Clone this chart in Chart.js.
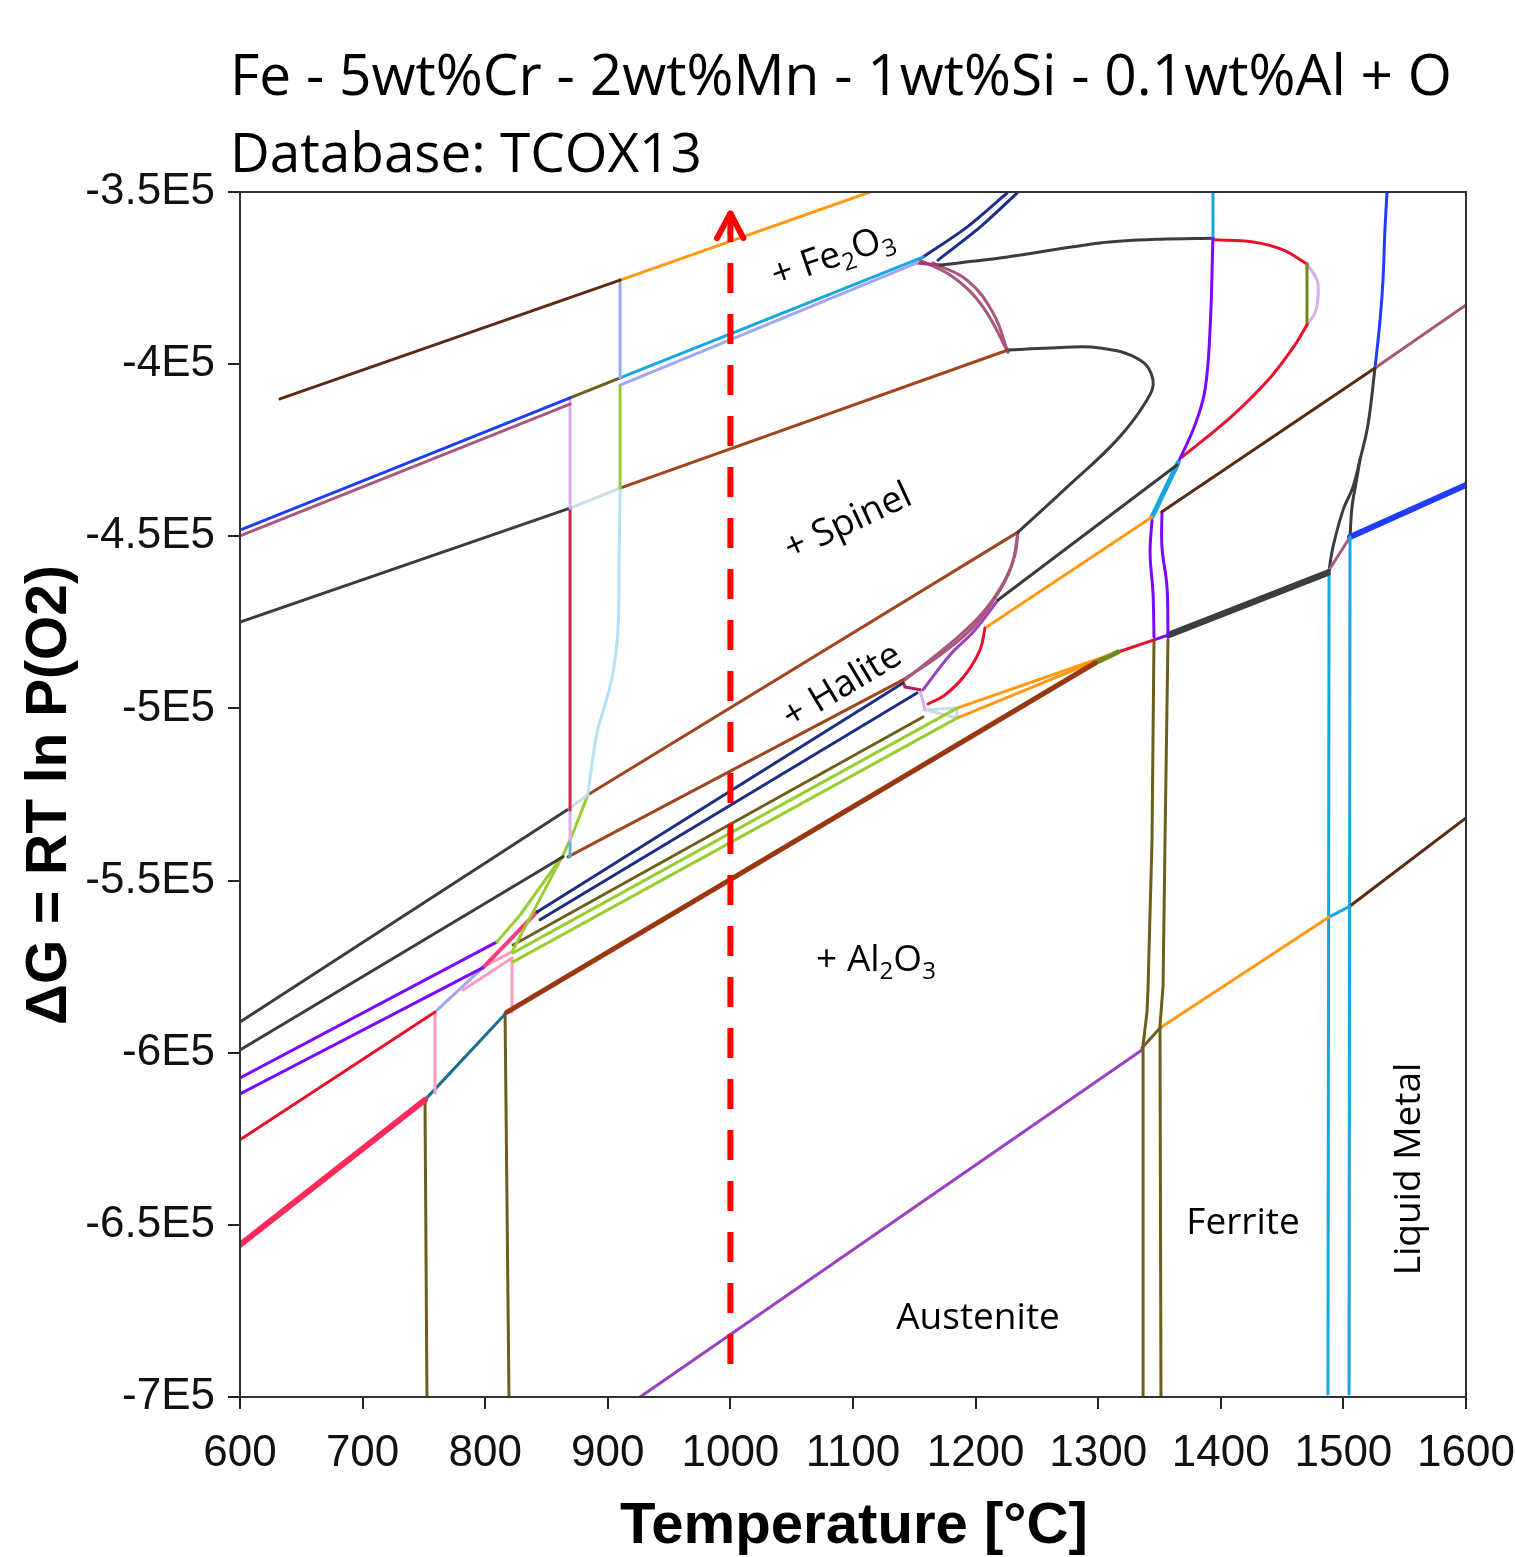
<!DOCTYPE html>
<html>
<head>
<meta charset="utf-8">
<script src="https://cdn.jsdelivr.net/npm/chart.js@4.4.1/dist/chart.umd.min.js"></script>
<style>
  html, body { margin: 0; padding: 0; background: #fff; }
</style>
</head>
<body>
<canvas id="myChart" width="1515" height="1557"></canvas>
<script>
// temperature in °C, driving force in units of 1E5 J/mol
const xTickValues = [600, 700, 800, 900, 1000, 1100, 1200, 1300, 1400, 1500, 1600];
const yTickValues = [-3.5, -4, -4.5, -5, -5.5, -6, -6.5, -7];
const yTickLabels = ['-3.5E5', '-4E5', '-4.5E5', '-5E5', '-5.5E5', '-6E5', '-6.5E5', '-7E5'];

// upper part
const brownTop = [[632.6, -4.101], [910, -3.756]];
const orangeTop = [[910, -3.756], [1113.9, -3.5]];
const periVert910 = [[910, -3.756], [910, -4.040]];
const blueUpper = [[600, -4.482], [869.2, -4.098]];
const mauveUpper = [[600, -4.499], [869.2, -4.116]];
const oliveShort = [[869.2, -4.098], [910, -4.040]];
const cyanUpper = [[910, -4.040], [1157.1, -3.689]];
const lavUpper = [[910, -4.061], [1152.2, -3.706]];
const lavVert870 = [[869.2, -4.098], [869.2, -4.418]];
const greenVert910 = [[910, -4.061], [910, -4.360]];
const greyA = [[600, -4.749], [869.2, -4.418]];
const paleA = [[869.2, -4.418], [910, -4.360]];
const brownMid = [[910, -4.360], [1226.4, -3.959]];
const greyLoop = [[1226.4, -3.959], [1260.7, -3.953], [1301.5, -3.953], [1334.1, -3.988], [1344.7, -4.046],
  [1339.8, -4.104], [1315.3, -4.220], [1274.6, -4.357], [1234.6, -4.488]];
const crimsonVert870 = [[869.2, -4.418], [869.2, -5.295]];
const lavVert870b = [[869.2, -5.295], [869.2, -5.382]];
const tealVert870 = [[869.2, -5.382], [869.2, -5.431]];
const lightBlueCurve = [[910, -4.360], [909.2, -4.569], [908.3, -4.772], [904.2, -4.897], [897.7, -4.990],
  [891.2, -5.071], [883.8, -5.246]];
const greyB = [[600, -5.911], [866.7, -5.295]];
const greyC = [[600, -5.992], [863.5, -5.431]];
const paleB = [[866.7, -5.295], [883.8, -5.251]];
const brownHalTop = [[883.8, -5.251], [1234.6, -4.488]];
const brownHalBot = [[867.5, -5.431], [1140.8, -4.917]];
const greenSteep = [[883.8, -5.251], [871.6, -5.362], [863.5, -5.426], [828.4, -5.600], [809.6, -5.678]];
const greenSteep2 = [[863.5, -5.426], [821.9, -5.707]];
const navy1 = [[842.3, -5.591], [1140.8, -4.926]];
const navy2 = [[844.7, -5.614], [1152.2, -4.955]];
const oliveLong = [[822.7, -5.687], [1157.1, -5.025]];
const green1 = [[822.7, -5.710], [1184.8, -4.999]];
const green2 = [[822.7, -5.736], [1184.8, -5.028]];
const brownThick = [[817.8, -5.882], [1297.4, -4.868]];
const oliveGreenShort = [[1297.4, -4.868], [1316.2, -4.836]];
const redShort = [[1316.2, -4.836], [1345.5, -4.801]];
const orange1 = [[1184.8, -4.999], [1316.2, -4.836]];
const orange2 = [[1184.8, -5.028], [1316.2, -4.836]];
const orangeMid = [[1209.3, -4.763], [1343.9, -4.444]];
const greyD = [[1218.3, -4.685], [1364.3, -4.293]];
const cyanThick = [[1343.9, -4.444], [1365.1, -4.287]];
const brownR = [[1352, -4.429], [1525.8, -4.011]];
const mauveR = [[1525.8, -4.011], [1600, -3.828]];
const violetUp = [[1365.1, -4.287], [1378.9, -4.177], [1387.1, -4.075], [1391.2, -3.901], [1393.6, -3.634]];
const cyanTop = [[1393.6, -3.634], [1393.6, -3.5]];
const redR = [[1368.4, -4.270], [1407.5, -4.156], [1440.1, -4.040], [1460.5, -3.944], [1470.3, -3.886]];
const oliveVertR = [[1470.3, -3.886], [1470.3, -3.709]];
const redTop = [[1470.3, -3.709], [1450.7, -3.668], [1426.3, -3.645], [1393.6, -3.639]];
const lavBulge = [[1470.3, -3.709], [1478.5, -3.756], [1479.3, -3.805], [1476.8, -3.851], [1470.3, -3.886]];
const greyTop = [[1171, -3.712], [1219.9, -3.692], [1301.5, -3.648], [1350.4, -3.637], [1393.6, -3.634]];
const magentaTop = [[1152.2, -3.706], [1171, -3.712]];
const navyA = [[1157.1, -3.689], [1193, -3.602], [1225.6, -3.503]];
const navyB = [[1169.3, -3.698], [1203.6, -3.602], [1233.8, -3.503]];
const mauveA = [[1154.6, -3.698], [1181.6, -3.747], [1206, -3.834], [1226.4, -3.965]];
const mauveB = [[1165.2, -3.706], [1193, -3.756], [1214.2, -3.851], [1226.4, -3.965]];

// right part
const violetL = [[1343.9, -4.453], [1342.3, -4.548], [1344.7, -4.665], [1345.5, -4.792]];
const violetR = [[1352, -4.429], [1352, -4.531], [1356.1, -4.647], [1356.9, -4.781]];
const violetConn = [[1345.5, -4.801], [1356.9, -4.787]];
const greyThick1 = [[1356.9, -4.783], [1488.3, -4.600]];
const greyThick2 = [[1356.9, -4.792], [1488.3, -4.609]];
const oliveL = [[1345.5, -4.801], [1343.9, -5.382], [1340.6, -5.818], [1339.8, -5.882], [1336.6, -5.977], [1336.6, -7.0]];
const oliveR = [[1356.9, -4.801], [1354.5, -5.382], [1352.9, -5.806], [1350.4, -5.922], [1351.2, -7.0]];
const oliveDiag = [[1335.7, -5.986], [1350.4, -5.928]];
const purpleLow = [[926.3, -7.0], [1335.7, -5.992]];
const orangeLow = [[1350.4, -5.928], [1488.3, -5.606]];
const cyanLowShort = [[1488.3, -5.606], [1505.4, -5.574]];
const brownLow = [[1505.4, -5.574], [1600, -5.318]];
const cyanV1 = [[1488.3, -4.598], [1487.4, -6.991]];
const cyanV2 = [[1505.4, -4.502], [1504.6, -6.991]];
const mauveShort = [[1488.3, -4.598], [1505.4, -4.502]];
const blueThick = [[1505.4, -4.502], [1600, -4.351]];
const greyCurveA = [[1488.3, -4.598], [1491.5, -4.531], [1499.7, -4.424], [1507.8, -4.357], [1513.5, -4.278],
  [1520, -4.177], [1525.8, -4.011]];
const greyCurveB = [[1505.4, -4.502], [1507, -4.415], [1510.3, -4.345], [1513.5, -4.278]];
const blueUp = [[1525.8, -4.011], [1529.9, -3.872], [1532.3, -3.756], [1533.9, -3.610], [1535.6, -3.5]];

// lower left part
const violet1 = [[600, -6.073], [809.6, -5.678]];
const violet2 = [[600, -6.120], [798.2, -5.753]];
const redLow = [[600, -6.253], [759.1, -5.882]];
const periLow = [[760.7, -5.876], [798.2, -5.753]];
const pinkV435 = [[759.1, -5.882], [759.1, -6.117]];
const pinkThick = [[600, -6.558], [750.9, -6.137]];
const tealLow = [[750.9, -6.137], [817.8, -5.882]];
const oliveV425 = [[750.9, -6.137], [752.5, -7.0]];
const oliveV507 = [[816.2, -5.885], [819.4, -7.0]];
const pinkV512 = [[821.9, -5.882], [821.9, -5.725]];
const pinkMagenta = [[798.2, -5.753], [842.3, -5.591]];
const pinkDiag1 = [[781.9, -5.818], [821.9, -5.725]];
const pinkDiag2 = [[798.2, -5.751], [821.9, -5.707]];

// halite corner
const mauveH1 = [[1234.6, -4.488], [1229.7, -4.583], [1219.9, -4.656], [1199.5, -4.758], [1171, -4.845], [1140.8, -4.917]];
const mauveH2 = [[1234.6, -4.488], [1232.1, -4.554], [1224, -4.627], [1207.7, -4.714], [1187.3, -4.787],
  [1162.8, -4.859], [1142.4, -4.917]];
const purpleH = [[1218.3, -4.685], [1199.5, -4.772], [1179.1, -4.845], [1157.1, -4.946]];
const redH = [[1207.7, -4.766], [1203.6, -4.830], [1191.4, -4.903], [1175, -4.961], [1161.2, -4.987]];
const crimsonH = [[1140.8, -4.923], [1142.4, -4.938], [1154.6, -4.946]];
const lavH = [[1154.6, -4.946], [1158.7, -5.004]];
const paleH = [[1158.7, -5.004], [1184.8, -4.999], [1184.8, -5.028], [1158.7, -5.004]];

// the red arrow at 1000 °C
const arrowShaft = [[1000, -3.558], [1000, -6.921]];
const arrowHead = [[989.1, -3.634], [1000, -3.562], [1010.6, -3.634]];

const C = {
  grey: '#3a3d40', brownD: '#5a2a14', brown: '#a0461e', brownT: '#993810', orange: '#ff9a10',
  blue: '#1f3cff', mauve: '#a8587e', cyan: '#18a6e0', lav: '#a0a6f0', lavL: '#d9aeea',
  crimson: '#c8284a', ygreen: '#9acd32', olive: '#6e5e1c', oliveG: '#6b8a1a', navy: '#1c2f82',
  red: '#e8102a', violet: '#7a08ff', purple: '#9b40bf', pink: '#ff9ac0', pinkT: '#ff2a5a',
  teal: '#1a6f8a', lightBlue: '#b5e0f5', pale: '#c8dcea', magenta: '#ff3a7a'
};

// [data, colour, width, tension]
const curves = [
  [arrowHead, '#ff0000', 6, 0],
  [brownTop, C.brownD, 3, 0], [orangeTop, C.orange, 3, 0], [periVert910, C.lav, 3, 0],
  [blueUpper, C.blue, 3, 0], [mauveUpper, C.mauve, 3, 0], [oliveShort, C.olive, 3, 0],
  [cyanUpper, C.cyan, 3, 0], [lavUpper, C.lav, 3, 0], [lavVert870, C.lavL, 3, 0],
  [greenVert910, C.ygreen, 3, 0], [greyA, C.grey, 3, 0], [paleA, C.pale, 3, 0],
  [brownMid, C.brown, 3, 0], [greyLoop, C.grey, 3, 0.4], [crimsonVert870, C.crimson, 3, 0],
  [lavVert870b, C.lavL, 3, 0], [tealVert870, '#5ab4d6', 3, 0], [lightBlueCurve, C.lightBlue, 3, 0.4],
  [greyB, C.grey, 3, 0], [greyC, C.grey, 3, 0], [paleB, C.pale, 3, 0],
  [brownHalTop, C.brown, 3, 0], [brownHalBot, C.brown, 3, 0],
  [greenSteep, C.ygreen, 3, 0], [greenSteep2, C.ygreen, 3, 0],
  [navy1, C.navy, 3, 0], [navy2, C.navy, 3, 0], [oliveLong, C.olive, 3, 0],
  [green1, C.ygreen, 3, 0], [green2, C.ygreen, 3, 0], [brownThick, C.brownT, 5, 0],
  [oliveGreenShort, C.oliveG, 5, 0], [redShort, C.red, 3, 0], [orange1, C.orange, 3, 0], [orange2, C.orange, 3, 0],
  [orangeMid, C.orange, 3, 0], [greyD, C.grey, 3, 0], [cyanThick, C.cyan, 5, 0],
  [brownR, C.brownD, 3, 0], [mauveR, C.mauve, 3, 0], [violetUp, C.violet, 3, 0.4], [cyanTop, C.cyan, 3, 0],
  [redR, C.red, 3, 0.3], [oliveVertR, C.oliveG, 3, 0], [redTop, C.red, 3, 0.4], [lavBulge, C.lavL, 3, 0.4],
  [greyTop, C.grey, 3, 0.3], [magentaTop, '#b03070', 3, 0], [navyA, C.navy, 3, 0.3], [navyB, C.navy, 3, 0.3],
  [mauveA, C.mauve, 3, 0.4], [mauveB, C.mauve, 3, 0.4],
  [violetL, C.violet, 3, 0.4], [violetR, C.violet, 3, 0.4], [violetConn, C.violet, 3, 0],
  [greyThick1, C.grey, 3.5, 0], [greyThick2, C.grey, 3.5, 0], [oliveL, C.olive, 3, 0], [oliveR, C.olive, 3, 0],
  [oliveDiag, C.olive, 3, 0], [purpleLow, C.purple, 3, 0], [orangeLow, C.orange, 3, 0],
  [cyanLowShort, C.cyan, 3, 0], [brownLow, C.brownD, 3, 0], [cyanV1, C.cyan, 3, 0], [cyanV2, C.cyan, 3, 0],
  [mauveShort, C.mauve, 3, 0], [blueThick, C.blue, 6, 0], [greyCurveA, C.grey, 3, 0.4],
  [greyCurveB, C.grey, 3, 0.4], [blueUp, C.blue, 3, 0.4],
  [violet1, C.violet, 3, 0], [violet2, C.violet, 3, 0], [redLow, C.red, 3, 0], [periLow, C.lav, 3, 0],
  [pinkV435, C.pink, 3, 0], [pinkThick, C.pinkT, 6, 0], [tealLow, C.teal, 3, 0],
  [oliveV425, C.olive, 3, 0], [oliveV507, C.olive, 3, 0], [pinkV512, C.pink, 3, 0],
  [pinkMagenta, C.magenta, 4, 0], [pinkDiag1, C.pink, 3, 0], [pinkDiag2, C.pink, 3, 0],
  [mauveH1, C.mauve, 3, 0.4], [mauveH2, C.mauve, 3, 0.4], [purpleH, C.purple, 3, 0.4], [redH, C.red, 3, 0.4],
  [crimsonH, '#b02050', 3, 0], [lavH, C.lavL, 3, 0], [paleH, C.pale, 3, 0]
];

const datasets = [{
  data: arrowShaft.map(p => ({ x: p[0], y: p[1] })),
  showLine: true, borderColor: '#ff0000', borderWidth: 6, borderDash: [30, 21],
  pointRadius: 0, fill: false
}].concat(curves.map(c => ({
  data: c[0].map(p => ({ x: p[0], y: p[1] })),
  showLine: true,
  borderColor: c[1],
  borderWidth: c[2],
  tension: c[3],
  pointRadius: 0,
  fill: false,
  borderCapStyle: 'round',
  borderJoinStyle: 'round'
})));

function drawParts(ctx, parts, size, family) {
  let total = 0;
  parts.forEach(p => {
    ctx.font = (p[1] ? size * 0.65 : size) + 'px ' + family;
    total += ctx.measureText(p[0]).width;
  });
  let x = -total / 2;
  parts.forEach(p => {
    ctx.font = (p[1] ? size * 0.65 : size) + 'px ' + family;
    ctx.fillText(p[0], x, p[1] ? size * 0.2 : 0);
    x += ctx.measureText(p[0]).width;
  });
}

function fitSize(ctx, text, font, width) {
  ctx.font = font.replace('SIZE', '100px');
  return 100 * width / ctx.measureText(text).width;
}

const textPlugin = {
  id: 'texts',
  afterDraw(chart) {
    const ctx = chart.ctx;
    const a = chart.chartArea;
    ctx.save();
    ctx.strokeStyle = '#333';
    ctx.lineWidth = 2;
    ctx.strokeRect(a.left, a.top, a.right - a.left, a.bottom - a.top);

    ctx.fillStyle = '#000';
    ctx.textBaseline = 'alphabetic';
    ctx.textAlign = 'left';
    // title
    const tFam = '"Open Sans", sans-serif';
    const line1 = 'Fe - 5wt%Cr - 2wt%Mn - 1wt%Si - 0.1wt%Al + O';
    const line2 = 'Database: TCOX13';
    ctx.font = fitSize(ctx, line1, 'SIZE ' + tFam, 1222) + 'px ' + tFam;
    ctx.fillText(line1, 230, 95);
    ctx.font = fitSize(ctx, line2, 'SIZE ' + tFam, 472) + 'px ' + tFam;
    ctx.fillText(line2, 230, 172);

    // axis titles
    const aFam = '"Liberation Sans", Arial, sans-serif';
    const xt = 'Temperature [°C]';
    const xs = fitSize(ctx, xt, 'bold SIZE ' + aFam, 468);
    ctx.font = 'bold ' + xs + 'px ' + aFam;
    ctx.textAlign = 'center';
    ctx.fillText(xt, 854, 1543);

    const yt = 'ΔG = RT ln P(O2)';
    const ys = fitSize(ctx, yt, 'bold SIZE ' + aFam, 460);
    ctx.save();
    ctx.translate(46, 795);
    ctx.rotate(-Math.PI / 2);
    ctx.font = 'bold ' + ys + 'px ' + aFam;
    ctx.fillText(yt, 0, ys * 0.36);
    ctx.restore();

    // region labels
    const lab = [
      { parts: [['+ Fe', 0], ['2', 1], ['O', 0], ['3', 1]], x: 832, y: 254, rot: -19 },
      { parts: [['+ Spinel', 0]], x: 847, y: 520, rot: -25 },
      { parts: [['+ Halite', 0]], x: 841, y: 684, rot: -31 },
      { parts: [['+ Al', 0], ['2', 1], ['O', 0], ['3', 1]], x: 876, y: 958, rot: 0 },
      { parts: [['Austenite', 0]], x: 978, y: 1316, rot: 0 },
      { parts: [['Ferrite', 0]], x: 1243, y: 1221, rot: 0 },
      { parts: [['Liquid Metal', 0]], x: 1407, y: 1169, rot: -90 }
    ];
    ctx.textAlign = 'left';
    lab.forEach(l => {
      ctx.save();
      ctx.translate(l.x, l.y);
      ctx.rotate(l.rot * Math.PI / 180);
      ctx.translate(0, 37 * 0.36);
      drawParts(ctx, l.parts, 37, tFam);
      ctx.restore();
    });
    ctx.restore();
  }
};

new Chart(document.getElementById('myChart'), {
  type: 'scatter',
  data: { datasets: datasets },
  options: {
    responsive: false,
    animation: false,
    layout: { padding: { top: 192, right: 49, left: 0, bottom: 0 } },
    plugins: { legend: { display: false }, tooltip: { enabled: false } },
    scales: {
      x: {
        type: 'linear', min: 600, max: 1600,
        afterFit: s => { s.height = 160; s.paddingRight = 0; s.paddingLeft = 0; },
        afterBuildTicks: s => { s.ticks = xTickValues.map(v => ({ value: v })); },
        grid: { drawOnChartArea: false, drawTicks: true, tickLength: 12, color: '#222', lineWidth: 2 },
        border: { display: true, color: '#333', width: 2 },
        ticks: {
          autoSkip: false, maxRotation: 0, padding: 18, color: '#111',
          font: { family: '"Liberation Sans", Arial, sans-serif', size: 44 },
          callback: v => String(v)
        }
      },
      y: {
        type: 'linear', min: -7, max: -3.5,
        afterFit: s => { s.width = 240; },
        afterBuildTicks: s => { s.ticks = yTickValues.map(v => ({ value: v })); },
        grid: { drawOnChartArea: false, drawTicks: true, tickLength: 12, color: '#222', lineWidth: 2 },
        border: { display: true, color: '#333', width: 2 },
        ticks: {
          autoSkip: false, padding: 13, color: '#111',
          font: { family: '"Liberation Sans", Arial, sans-serif', size: 44 },
          callback: v => yTickLabels[yTickValues.indexOf(v)]
        }
      }
    }
  },
  plugins: [textPlugin]
});
</script>
</body>
</html>
